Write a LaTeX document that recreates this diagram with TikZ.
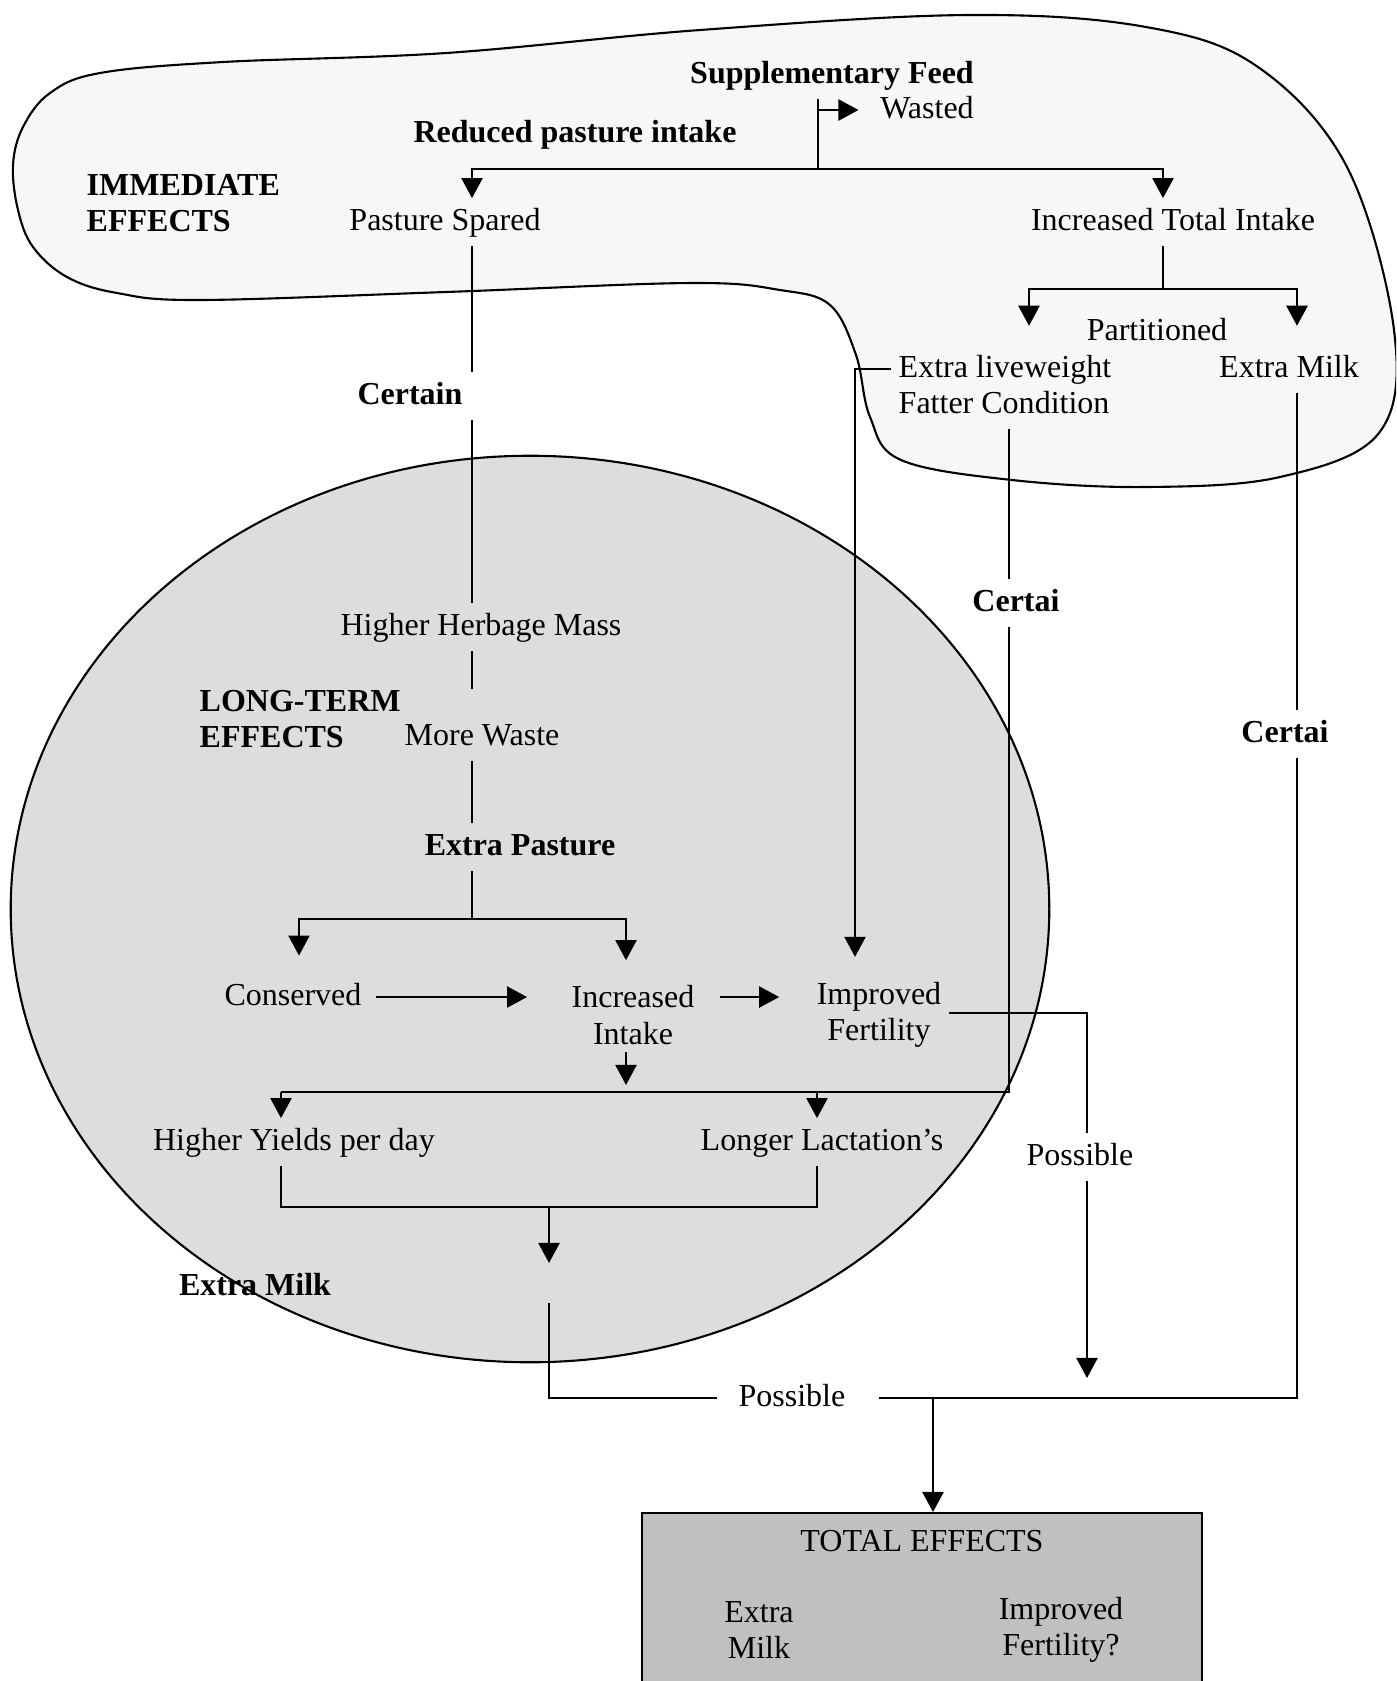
\documentclass[tikz,border=0pt]{standalone}
\usepackage{fontspec}
\setmainfont{Liberation Serif}
\usepackage{tikz}
\usetikzlibrary{arrows.meta, positioning}
\definecolor{blobgray}{RGB}{247,247,247}
\definecolor{ovalgray}{RGB}{221,221,221}
\definecolor{boxgray}{RGB}{192,192,192}

\begin{document}
\begin{tikzpicture}[
  x=0.01cm, y=-0.01cm,
  font=\fontsize{9.1}{10.4}\selectfont,
  txt/.style={inner sep=2pt, text height=1.55ex, text depth=.45ex},
  hd/.style={txt, font=\fontsize{9.1}{10.4}\selectfont\bfseries},
  zone/.style={inner sep=2pt, align=left, anchor=west, font=\fontsize{9.1}{10.4}\selectfont\bfseries},
  pair/.style={inner sep=2pt, align=center},
  ln/.style={line width=0.6pt},
  arr/.style={ln, -{Triangle[length=5.7pt, width=6pt]}}
]

\useasboundingbox (0,0) rectangle (1396,1681);
\clip (0,0) rectangle (1396,1681);

% immediate effects zone
\draw[ln, fill=blobgray] plot[smooth cycle, tension=0.6] coordinates {
  (100,73) (223,62) (446,53) (700,30) (968,15) (1146,27) (1258,67)
  (1347,167) (1394,330) (1379,433) (1280,477) (1146,487) (1012,480)
  (901,460) (870,417) (856,355) (830,305) (780,290) (690,283)
  (446,292) (200,300) (117,293) (67,277) (33,247) (18,210) (13,165)
  (23,127) (50,93)};

% long-term effects zone
\draw[ln, fill=ovalgray] (530,909) ellipse [x radius=5.19cm, y radius=4.53cm];

% total effects box
\node[draw, ln, fill=boxgray, minimum width=5.59cm, minimum height=2.4cm, anchor=north] (box) at (922,1512) {};

% labels
\node[hd] (feed) at (832,75) {Supplementary Feed};
\node[txt] (wasted) at (927,110) {Wasted};
\node[hd] (reduced) at (575,134) {Reduced pasture intake};
\node[zone] (immediate) at (79,203) {IMMEDIATE\\EFFECTS};
\node[txt] (spared) at (445,222) {Pasture Spared};
\node[txt] (total) at (1173,222) {Increased Total Intake};
\node[txt] (partitioned) at (1157,332) {Partitioned};
\node[txt, anchor=west] (liveweight) at (891,369) {Extra liveweight};
\node[txt, anchor=west] (fatter) at (891,405) {Fatter Condition};
\node[txt] (xmilk) at (1289,369) {Extra Milk};
\node[hd] (certain) at (410,396) {Certain};
\node[hd] (certai1) at (1016,603) {Certai};
\node[hd] (certai2) at (1285,734) {Certai};
\node[txt] (herbage) at (481,627) {Higher Herbage Mass};
\node[zone] (longterm) at (192,719) {LONG-TERM\\EFFECTS};
\node[txt] (waste) at (482,737) {More Waste};
\node[hd] (pasture) at (520,847) {Extra Pasture};
\node[txt] (conserved) at (293,997) {Conserved};
\node[pair] (intake) at (633,1015) {Increased\\Intake};
\node[pair] (fertility) at (879,1015) {Improved\\Fertility};
\node[txt] (yields) at (294,1142) {Higher Yields per day};
\node[txt] (lactation) at (822,1142) {Longer Lactation’s};
\node[txt] (possible1) at (1080,1157) {Possible};
\node[hd] (milk) at (255,1287) {Extra Milk};
\node[txt] (possible2) at (792,1398) {Possible};
\node[txt] (totaleff) at (922,1543) {TOTAL EFFECTS};
\node[pair] (totmilk) at (759,1630) {Extra\\Milk};
\node[pair] (totfert) at (1061,1630) {Improved\\Fertility?};

% turning points
\coordinate (fork) at (818,169);
\coordinate (wastedat) at (818,110);
\coordinate (sparedin) at (472,169);
\coordinate (totalin) at (1163,169);
\coordinate (tisplit) at (1163,289);
\coordinate (lwleft) at (1029,289);
\coordinate (milkright) at (1297,289);
\coordinate (lwturn) at (855,369);
\coordinate (trunk) at (472,919);
\coordinate (consin) at (299,919);
\coordinate (intkin) at (626,919);
\coordinate (intkout) at (626,1092);
\coordinate (fcturn) at (1009,1092);
\coordinate (yldin) at (281,1092);
\coordinate (lacin) at (817,1092);
\coordinate (fertturn) at (1087,1013);
\coordinate (fertend) at (1087,1378);
\coordinate (yldout) at (281,1207);
\coordinate (lacout) at (817,1207);
\coordinate (milkjoin) at (549,1207);
\coordinate (milkend) at (549,1263);
\coordinate (milkgo) at (549,1303);
\coordinate (milkturn) at (549,1398);
\coordinate (xmturn) at (1297,1398);
\coordinate (totin) at (933,1398);

% supplementary feed
\draw[ln] (fork |- feed.south) -- (fork);
\draw[arr, shorten >=4pt] (wastedat) -- (wasted.west);
\draw[arr] (fork) -- (sparedin) -- (sparedin |- spared.north);
\draw[arr] (fork) -- (totalin) -- (totalin |- total.north);

% partitioned
\draw[ln] (tisplit |- total.south) -- (tisplit);
\draw[arr, shorten >=5.5pt] (tisplit) -- (lwleft) -- (lwleft |- liveweight.north);
\draw[arr, shorten >=5.5pt] (tisplit) -- (milkright) -- (milkright |- xmilk.north);
\draw[arr, shorten >=5pt] (liveweight.west) -- (lwturn) -- (lwturn |- fertility.north);

% fatter condition
\draw[ln] (fatter.south -| fcturn) -- (certai1.north -| fcturn);
\draw[ln] (certai1.south -| fcturn) -- (fcturn) -- (yldin);
\draw[arr] (yldin) -- (yldin |- yields.north);
\draw[arr] (lacin) -- (lacin |- lactation.north);

% extra milk
\draw[ln] (xmilk.south -| xmturn) -- (certai2.north -| xmturn);
\draw[ln, shorten >=7.5pt] (certai2.south -| xmturn) -- (xmturn) -- (possible2.east);

% pasture spared
\draw[ln] (spared.south -| trunk) -- (certain.north -| trunk);
\draw[ln] (certain.south -| trunk) -- (herbage.north -| trunk);
\draw[ln, shorten >=7pt] (herbage.south -| trunk) -- (waste.north -| trunk);
\draw[ln] (waste.south -| trunk) -- (pasture.north -| trunk);
\draw[ln] (pasture.south -| trunk) -- (trunk);
\draw[arr, shorten >=5pt] (trunk) -- (consin) -- (consin |- conserved.north);
\draw[arr, shorten >=5pt] (trunk) -- (intkin) -- (intkin |- intake.north);

% across
\draw[arr, shorten <=2pt, shorten >=10.5pt] (conserved.east) -- (conserved.east -| intake.west);
\draw[arr, shorten <=5pt, shorten >=8.5pt] (intake.east |- conserved.east) -- (fertility.west |- conserved.east);
\draw[arr, shorten >=2pt] (intake.south -| intkout) -- (intkout);

% improved fertility
\draw[ln] (fertility.east |- fertturn) -- (fertturn) -- (possible1.north -| fertturn);
\draw[arr] (possible1.south -| fertturn) -- (fertend);

% yields and lactations
\draw[ln] (yldout |- yields.south) -- (yldout) -- (lacout) -- (lacout |- lactation.south);
\draw[arr] (milkjoin) -- (milkend);
\draw[ln, shorten >=4pt] (milkgo) -- (milkturn) -- (possible2.west);
\draw[arr] (totin) -- (totin |- box.north);

\end{tikzpicture}
\end{document}
